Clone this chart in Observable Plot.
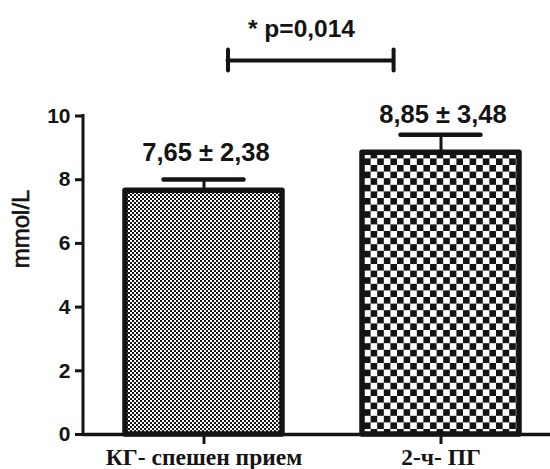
<!DOCTYPE html>
<html><head><meta charset="utf-8">
<script src="https://cdn.jsdelivr.net/npm/d3@7"></script>
<script src="https://cdn.jsdelivr.net/npm/@observablehq/plot@0.6"></script>
<style>body{margin:0;background:#fff}</style>
</head><body><div id="chart"></div>
<script>
const categories = ["КГ- спешен прием", "2-ч- ПГ"];
const means = [7.65, 8.85];
const errorTops = [8.01, 9.41];
const meanLabels = ["7,65 ± 2,38", "8,85 ± 3,48"];
const yTicks = [0, 2, 4, 6, 8, 10];
const yLabel = "mmol/L";
const pLabel = "* p=0,014";
const bracketLevel = 11.74;
const bracketCapHalf = 0.33;
const pLabelLevel = 12.47;
const patterns = ["fineCheck", "coarseCheck"];

const ink = "#141414";
const sans = "'Liberation Sans', Arial, sans-serif";
const serif = "'Liberation Serif', 'Times New Roman', serif";

const data = categories.map((c, i) => ({cat: c, mean: means[i], err: errorTops[i], label: meanLabels[i], pat: patterns[i]}));
const bracket = [{a: categories[0], b: categories[1], y: bracketLevel, y1: bracketLevel - bracketCapHalf, y2: bracketLevel + bracketCapHalf, text: pLabel, ty: pLabelLevel}];

function patternDefs() {
  const defs = d3.create("svg:defs");
  const p1 = defs.append("pattern").attr("id", "fineCheck").attr("patternUnits", "userSpaceOnUse").attr("width", 4).attr("height", 4);
  p1.append("rect").attr("width", 4).attr("height", 4).attr("fill", "#fff");
  p1.append("rect").attr("width", 2).attr("height", 2).attr("fill", ink);
  p1.append("rect").attr("x", 2).attr("y", 2).attr("width", 2).attr("height", 2).attr("fill", ink);
  const s = 6.6;
  const p2 = defs.append("pattern").attr("id", "coarseCheck").attr("patternUnits", "userSpaceOnUse").attr("width", 2 * s).attr("height", 2 * s).attr("x", 1);
  p2.append("rect").attr("width", 2 * s).attr("height", 2 * s).attr("fill", "#fff");
  p2.append("rect").attr("x", s).attr("width", s).attr("height", s).attr("fill", ink);
  p2.append("rect").attr("y", s).attr("width", s).attr("height", s).attr("fill", ink);
  return defs.node();
}

function yAxisLine(index, scales, values, dims) {
  const y = scales.y;
  return d3.create("svg:line")
    .attr("x1", dims.marginLeft).attr("x2", dims.marginLeft)
    .attr("y1", y(yTicks[0]) + 1.5).attr("y2", y(yTicks[yTicks.length - 1]) - 1.5)
    .attr("stroke", ink).attr("stroke-width", 3).node();
}

const chart = Plot.plot({
  width: 550,
  height: 469,
  marginLeft: 83,
  marginRight: 0,
  marginTop: 115.5,
  marginBottom: 35,
  style: {fontFamily: sans, color: ink, background: "#fff"},
  x: {domain: categories, paddingInner: 0.339, paddingOuter: 0.1527, align: 0.572, axis: null},
  y: {domain: [0, 10], axis: null},
  marks: [
    patternDefs,
    Plot.barY(data.filter((d, i) => i === 0), {x: "cat", y: "mean", fill: "url(#fineCheck)", stroke: ink, strokeWidth: 5.5, strokeLinejoin: "round"}),
    Plot.barY(data.filter((d, i) => i === 1), {x: "cat", y: "mean", fill: "url(#coarseCheck)", stroke: ink, strokeWidth: 5.5, strokeLinejoin: "round"}),
    Plot.ruleX(data, {x: "cat", y1: "mean", y2: "err", stroke: ink, strokeWidth: 3}),
    Plot.tickY(data, {x: "cat", y: "err", stroke: ink, strokeWidth: 4.5, strokeLinecap: "round", insetLeft: 38.5, insetRight: 38.5}),
    Plot.text(data, {x: "cat", y: "mean", text: "label", dy: -30, dx: 2, lineAnchor: "bottom", fontSize: 25.5, fontWeight: "bold", fill: ink}),
    Plot.ruleY([0], {stroke: ink, strokeWidth: 3.5}),
    yAxisLine,
    Plot.axisY(yTicks, {tickSize: 8, tickPadding: 5, strokeWidth: 3, fontSize: 21, fontWeight: "bold", fontFamily: sans, label: null, color: ink}),
    Plot.axisX({tickSize: 10, tickPadding: 4, strokeWidth: 3, fontSize: 23.5, fontWeight: "bold", fontFamily: serif, label: null, color: ink}),
    Plot.text([yLabel], {frameAnchor: "left", rotate: -90, dx: -62, dy: -7, fontSize: 24, fontFamily: "'Liberation Sans Narrow', 'Liberation Sans', sans-serif", fill: ink, stroke: ink, strokeWidth: 0.6}),
    // significance bracket
    Plot.ruleY(bracket, {y: "y", x1: "a", x2: "b", insetLeft: 102.5, insetRight: 125.75, stroke: ink, strokeWidth: 4, strokeLinecap: "round"}),
    Plot.ruleX(bracket, {x: "a", y1: "y1", y2: "y2", dx: 24, stroke: ink, strokeWidth: 4, strokeLinecap: "round"}),
    Plot.ruleX(bracket, {x: "b", y1: "y1", y2: "y2", dx: -47.4, stroke: ink, strokeWidth: 4, strokeLinecap: "round"}),
    Plot.text(bracket, {x: "a", y: "ty", text: "text", dx: 97.5, lineAnchor: "bottom", fontSize: 24.5, fontWeight: "bold", fill: ink})
  ]
});
document.getElementById("chart").appendChild(chart);
</script>
</body></html>
